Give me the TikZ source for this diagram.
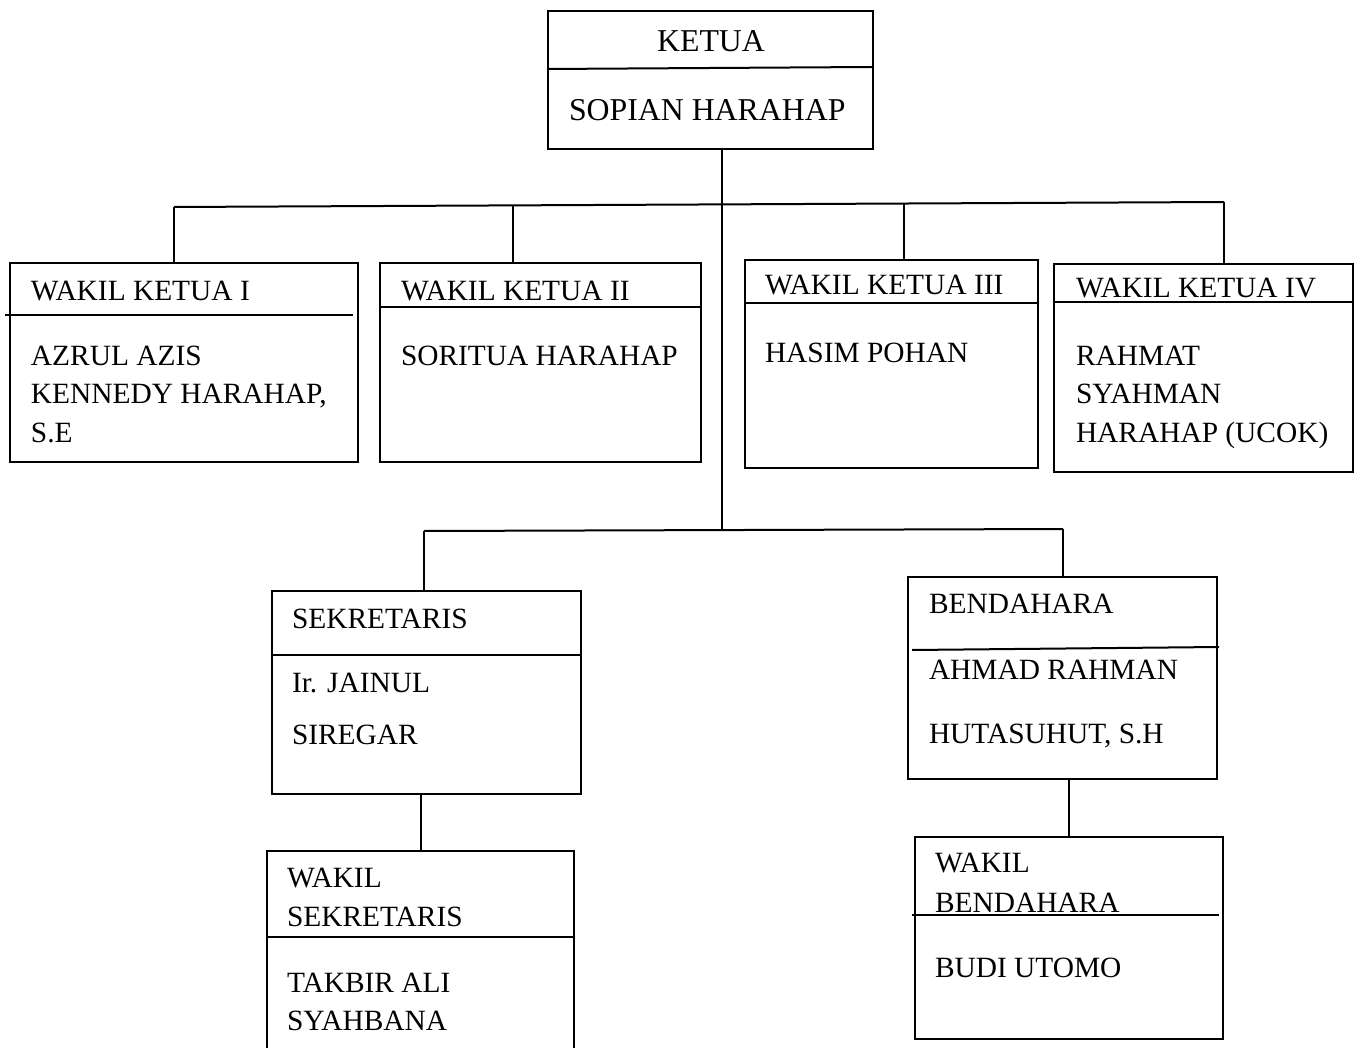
\documentclass[tikz,border=0pt]{standalone}
\usepackage{fontspec}
\setmainfont{Liberation Serif}
\tikzset{
  box/.style={draw, anchor=north west, inner sep=0pt},
  txt/.style={anchor=base west, inner sep=0pt, font=\fontsize{14.7}{18}\selectfont},
  bigtxt/.style={txt, font=\fontsize{15.9}{19}\selectfont},
}
\begin{document}
\begin{tikzpicture}[x=0.5pt, y=-0.5pt, line width=1pt]
\useasboundingbox (0,0) rectangle (1360,1048);
% kotak-kotak jabatan
\node[box, minimum width=162.5pt, minimum height=69pt] (ketua) at (547,10) {};
\node[box, minimum width=174pt, minimum height=99.5pt] (wk1) at (9,262) {};
\node[box, minimum width=160.5pt, minimum height=99.5pt] (wk2) at (379,262) {};
\node[box, minimum width=146.5pt, minimum height=104pt] (wk3) at (744,259) {};
\node[box, minimum width=149.5pt, minimum height=104pt] (wk4) at (1053,263) {};
\node[box, minimum width=154.5pt, minimum height=101.5pt] (sek) at (271,590) {};
\node[box, minimum width=154.5pt, minimum height=101pt] (bend) at (907,576) {};
\node[box, minimum width=153.5pt, minimum height=110pt] (wsek) at (266,850) {};
\node[box, minimum width=154pt, minimum height=101pt] (wbend) at (914,836) {};
% garis pemisah
\draw (547,69) -- (872,67);
\draw (5,315) -- (353,315);
\draw (379,307) -- (700,307);
\draw (744,303) -- (1037,303);
\draw (1053,302) -- (1352,302);
\draw (271,655) -- (580,655);
\draw (912,650) -- (1219,647);
\draw (266,937) -- (573,937);
\draw (912,915) -- (1219,915);
% teks
\node[bigtxt, anchor=base] (tketua) at (711,52) {KETUA};
\node[bigtxt] (nketua) at (568,121) {SOPIAN HARAHAP};
\node[txt] (twk1) at (30,300) {WAKIL KETUA I};
\node[txt] (nwk1a) at (30,365) {AZRUL AZIS};
\node[txt] (nwk1b) at (30,403) {KENNEDY HARAHAP,};
\node[txt] (nwk1c) at (30,442) {S.E};
\node[txt] (twk2) at (400,300) {WAKIL KETUA II};
\node[txt] (nwk2) at (400,365) {SORITUA HARAHAP};
\node[txt] (twk3) at (764,295) {WAKIL KETUA III};
\node[txt] (nwk3) at (764,362) {HASIM POHAN};
\node[txt] (twk4) at (1075,298) {WAKIL KETUA IV};
\node[txt] (nwk4a) at (1075,365) {RAHMAT};
\node[txt] (nwk4b) at (1075,403) {SYAHMAN};
\node[txt] (nwk4c) at (1075,442) {HARAHAP (UCOK)};
\node[txt] (tsek) at (291,628) {SEKRETARIS};
\node[txt] (nseka) at (291,692) {Ir. JAINUL};
\node[txt] (nsekb) at (291,744) {SIREGAR};
\node[txt] (tbend) at (928,613) {BENDAHARA};
\node[txt] (nbenda) at (928,679) {AHMAD RAHMAN};
\node[txt] (nbendb) at (928,743) {HUTASUHUT, S.H};
\node[txt] (twseka) at (286,887) {WAKIL};
\node[txt] (twsekb) at (286,926) {SEKRETARIS};
\node[txt] (nwseka) at (286,992) {TAKBIR ALI};
\node[txt] (nwsekb) at (286,1030) {SYAHBANA};
\node[txt] (twbenda) at (934,872) {WAKIL};
\node[txt] (twbendb) at (934,912) {BENDAHARA};
\node[txt] (nwbend) at (934,977) {BUDI UTOMO};
% garis penghubung
\coordinate (kt) at (722,148);
\coordinate (pusat) at (722,529);
\coordinate (a1) at (174,207);
\coordinate (a2) at (513,206);
\coordinate (a3) at (904,204);
\coordinate (a4) at (1224,202);
\coordinate (b1) at (424,531);
\coordinate (b2) at (1063,529);
\draw (kt) -- (pusat);
\draw (a1) -- (a4);
\foreach \a/\k in {a1/wk1, a2/wk2, a3/wk3, a4/wk4}{\draw (\a) -- (\a |- \k.north);}
\draw (b1) -- (b2);
\draw (b1) -- (b1 |- sek.north);
\draw (b2) -- (b2 |- bend.north);
\draw (wsek.north |- sek.south) -- (wsek.north);
\draw (wbend.north |- bend.south) -- (wbend.north);
\end{tikzpicture}
\end{document}
